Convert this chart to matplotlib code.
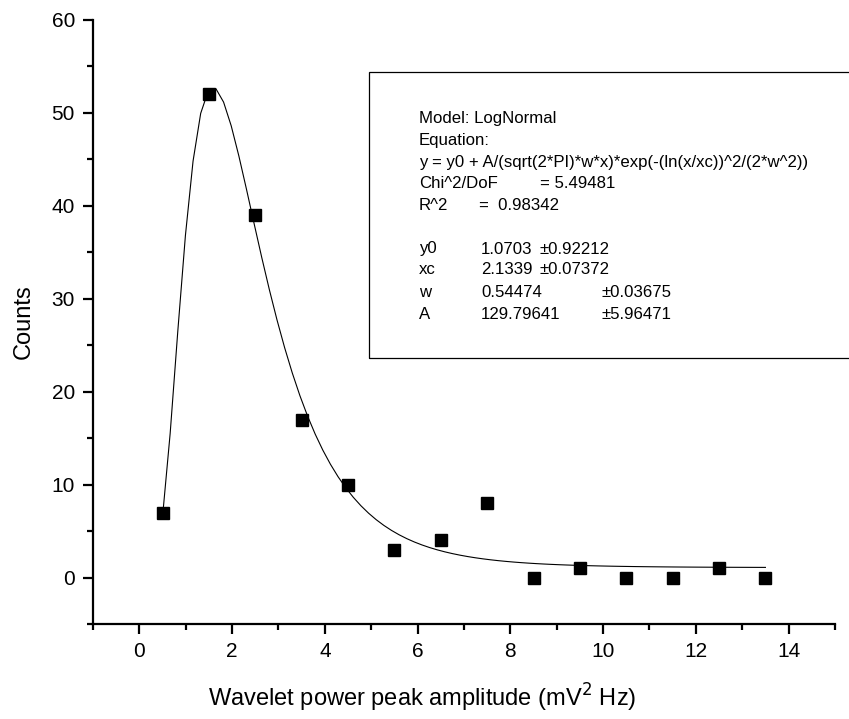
import numpy as np
import matplotlib
matplotlib.use("Agg")
import matplotlib.pyplot as plt
from matplotlib.ticker import MultipleLocator
from matplotlib.patches import Rectangle

# measured histogram counts
amplitude = [0.5, 1.5, 2.5, 3.5, 4.5, 5.5, 6.5, 7.5, 8.5, 9.5, 10.5, 11.5, 12.5, 13.5]
counts = [7, 52, 39, 17, 10, 3, 4, 8, 0, 1, 0, 0, 1, 0]

# LogNormal fit parameters (as printed in the chart)
y0 = 1.0703
xc = 2.1339
w = 0.54474
A = 129.79641

fit_lines = [
    "Model: LogNormal",
    "Equation:",
    "y = y0 + A/(sqrt(2*PI)*w*x)*exp(-(ln(x/xc))^2/(2*w^2))",
]
stat_names = ["Chi^2/DoF", "R^2"]
stat_values = ["= 5.49481", "=  0.98342"]
par_names = ["y0", "xc", "w", "A"]
par_values = ["1.0703", "2.1339", "0.54474", "129.79641"]
par_errors = ["\u00b10.92212", "\u00b10.07372", "\u00b10.03675", "\u00b15.96471"]


def lognormal(x):
    return y0 + A / (np.sqrt(2 * np.pi) * w * x) * np.exp(-(np.log(x / xc)) ** 2 / (2 * w ** 2))


plt.rcParams['font.family'] = ['Liberation Sans', 'DejaVu Sans']

fig = plt.figure(figsize=(8.49, 7.19), dpi=100)
ax = fig.add_axes([0.1095, 0.1321, 0.874, 0.8401])

xfit = np.linspace(amplitude[0], amplitude[-1], 80)
ax.plot(xfit, lognormal(xfit), color='black', lw=0.8)
ax.plot(amplitude, counts, 's', color='black', markersize=8)

ax.set_xlim(-1, 15)
ax.set_ylim(-5, 60)
ax.xaxis.set_major_locator(MultipleLocator(2))
ax.xaxis.set_minor_locator(MultipleLocator(1))
ax.yaxis.set_major_locator(MultipleLocator(10))
ax.yaxis.set_minor_locator(MultipleLocator(5))

for s in ['top', 'right']:
    ax.spines[s].set_visible(False)
for s in ['left', 'bottom']:
    ax.spines[s].set_linewidth(1.6)
ax.tick_params(which='major', length=7, width=1.6, labelsize=15, pad=6)
ax.tick_params(which='minor', length=4, width=1.6)

ax.set_xlabel("Wavelet power peak amplitude (mV$^2$ Hz)", fontsize=17)
ax.xaxis.set_label_coords(0.443, -0.095)
ax.set_ylabel("Counts", fontsize=17, labelpad=12)

# fit result box
W, H = 849.0, 719.0
fig.patches.append(Rectangle((369 / W, 1 - 358 / H), 490 / W, 286 / H,
                             transform=fig.transFigure, fill=False,
                             edgecolor='black', lw=0.9))

fs = 12.1
x0 = 419 / W
rows = [118, 140, 162, 184, 206, 249, 270, 292, 314]
for i, t in enumerate(fit_lines):
    fig.text(x0, 1 - rows[i] / H, t, fontsize=fs, va='center')
stat_x = [540, 479]
for i in range(2):
    fig.text(x0, 1 - rows[3 + i] / H, stat_names[i], fontsize=fs, va='center')
    fig.text(stat_x[i] / W, 1 - rows[3 + i] / H, stat_values[i], fontsize=fs, va='center')
err_x = [540, 540, 601, 601]
for i in range(4):
    yy = 1 - rows[5 + i] / H
    fig.text(x0, yy, par_names[i], fontsize=fs, va='center')
    fig.text(481 / W, yy, par_values[i], fontsize=fs, va='center')
    fig.text(err_x[i] / W, yy, par_errors[i], fontsize=fs, va='center')

fig.savefig("out.png", dpi=100)
